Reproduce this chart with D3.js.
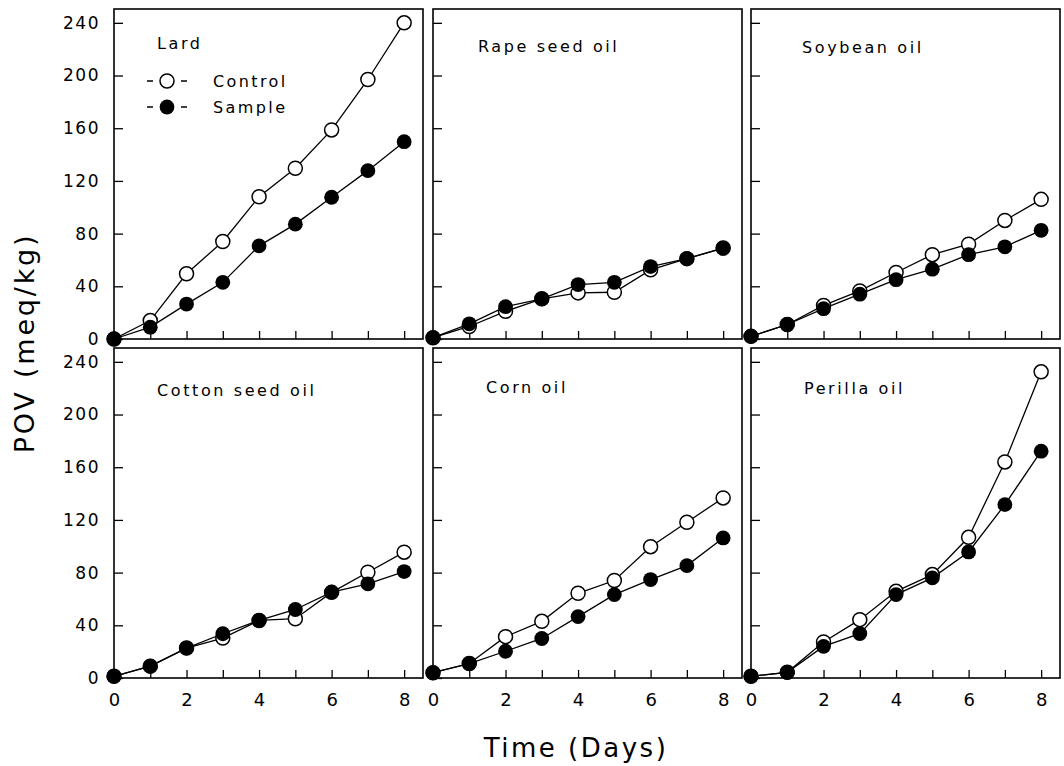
<!DOCTYPE html>
<html>
<head>
<meta charset="utf-8">
<script src="https://cdn.jsdelivr.net/npm/d3@7/dist/d3.min.js"></script>
<style>
  html, body { margin: 0; padding: 0; background: #fff; }
  svg { display: block; }
  text { font-family: "DejaVu Sans", sans-serif; fill: #000; }
</style>
</head>
<body>
<svg id="chart" width="1064" height="766"></svg>
<script>
// ---- data ----
const days = [0, 1, 2, 3, 4, 5, 6, 7, 8];
const oils = ["Lard", "Rape seed oil", "Soybean oil", "Cotton seed oil", "Corn oil", "Perilla oil"];
const yTicks = [0, 40, 80, 120, 160, 200, 240];
const xTicks = [0, 1, 2, 3, 4, 5, 6, 7, 8];
const xLabels = [0, 2, 4, 6, 8];

const controlLard    = [0, 14, 49.5, 74, 108, 129.6, 158.7, 197, 240];
const sampleLard     = [0, 9, 26.5, 43, 70.7, 87.2, 107.6, 127.8, 149.8];
const controlRape    = [1, 9.5, 21, 30.5, 35, 35.5, 52.5, 61, 69];
const sampleRape     = [1, 11.5, 24.5, 30.5, 41.3, 43, 55, 61, 69];
const controlSoybean = [2, 11, 25.5, 36.5, 50.5, 64, 72, 90, 106];
const sampleSoybean  = [2, 11, 23, 34, 45, 53, 64, 70, 82.5];
const controlCotton  = [1.3, 9, 22.7, 30.3, 43.7, 45, 65, 80.3, 95.5];
const sampleCotton   = [1.3, 9, 22.7, 33.6, 43.7, 52, 65.2, 71.5, 80.8];
const controlCorn    = [4, 11, 31.4, 43, 64.3, 74, 99.7, 118.2, 136.7];
const sampleCorn     = [4, 11, 20.3, 30, 46.6, 63.3, 74.7, 85.3, 106.3];
const controlPerilla = [1.3, 4.3, 27.3, 44.3, 65.8, 78.5, 106.8, 164, 232.4];
const samplePerilla  = [1.3, 4.3, 24, 33.7, 63.3, 76, 95.7, 131.6, 172.2];

const controls = [controlLard, controlRape, controlSoybean, controlCotton, controlCorn, controlPerilla];
const samples  = [sampleLard, sampleRape, sampleSoybean, sampleCotton, sampleCorn, samplePerilla];

// ---- layout ----
const colLeft = [114, 433, 751];
const rowTop = [9, 348];
const pw = 309, ph = 330;
const titleOffsetX = [43, 45, 51, 43, 53, 53];
const titleOffsetY = [40, 43, 44, 48, 45, 46];

const svg = d3.select("#chart");
const x = d3.scaleLinear().domain([0, 8.52]).range([0, pw]);
const y = d3.scaleLinear().domain([0, 250.5]).range([ph, 0]);
const line = d3.line().x((d, i) => x(days[i])).y(d => y(d));

oils.forEach((name, k) => {
  const col = k % 3, row = Math.floor(k / 3);
  const g = svg.append("g").attr("transform", `translate(${colLeft[col]},${rowTop[row]})`);

  // x axis (inward ticks)
  const xa = d3.axisBottom(x).tickValues(xTicks).tickSizeInner(-8).tickSizeOuter(0)
    .tickPadding(15)
    .tickFormat(d => (row === 1 && xLabels.includes(d)) ? d : "");
  const gx = g.append("g").attr("transform", `translate(0,${ph})`).call(xa);
  gx.select(".domain").remove();
  gx.selectAll("line").attr("stroke", "#000").attr("stroke-width", 1.3);
  gx.selectAll("text").style("font-size", "18px").attr("font-family", "DejaVu Sans");

  // y axis (inward ticks)
  const ya = d3.axisLeft(y).tickValues(yTicks).tickSizeInner(-9).tickSizeOuter(0)
    .tickPadding(14)
    .tickFormat(d => col === 0 ? d : "");
  const gy = g.append("g").call(ya);
  gy.select(".domain").remove();
  gy.selectAll("line").attr("stroke", "#000").attr("stroke-width", 1.3);
  gy.selectAll("text").style("font-size", "17px").style("letter-spacing", "1.5px")
    .attr("font-family", "DejaVu Sans");

  // frame
  g.append("rect").attr("x", 0).attr("y", 0).attr("width", pw).attr("height", ph)
    .attr("fill", "none").attr("stroke", "#000").attr("stroke-width", 1.6);

  // title
  g.append("text").attr("x", titleOffsetX[k]).attr("y", titleOffsetY[k])
    .style("font-size", "16px").style("letter-spacing", "2.6px").text(name);

  // lines
  g.append("path").datum(controls[k]).attr("d", line)
    .attr("fill", "none").attr("stroke", "#000").attr("stroke-width", 1.3);
  g.append("path").datum(samples[k]).attr("d", line)
    .attr("fill", "none").attr("stroke", "#000").attr("stroke-width", 1.3);

  // markers
  g.selectAll(".c").data(controls[k]).enter().append("circle")
    .attr("cx", (d, i) => x(days[i])).attr("cy", d => y(d)).attr("r", 7)
    .attr("fill", "#fff").attr("stroke", "#000").attr("stroke-width", 1.5);
  g.selectAll(".s").data(samples[k]).enter().append("circle")
    .attr("cx", (d, i) => x(days[i])).attr("cy", d => y(d)).attr("r", 7.4)
    .attr("fill", "#000");

  // legend in Lard panel
  if (k === 0) {
    const lg = g.append("g");
    const rows = [{label: "Control", fill: "#fff", yy: 72}, {label: "Sample", fill: "#000", yy: 98}];
    rows.forEach(r => {
      lg.append("line").attr("x1", 33).attr("x2", 39).attr("y1", r.yy).attr("y2", r.yy)
        .attr("stroke", "#000").attr("stroke-width", 1.5);
      lg.append("line").attr("x1", 67).attr("x2", 73).attr("y1", r.yy).attr("y2", r.yy)
        .attr("stroke", "#000").attr("stroke-width", 1.5);
      lg.append("circle").attr("cx", 53).attr("cy", r.yy).attr("r", r.fill === "#fff" ? 7 : 7.4)
        .attr("fill", r.fill).attr("stroke", r.fill === "#fff" ? "#000" : "none").attr("stroke-width", 1.5);
      lg.append("text").attr("x", 99).attr("y", r.yy + 6)
        .style("font-size", "16px").style("letter-spacing", "2.4px").text(r.label);
    });
  }
});

// axis titles
svg.append("text").attr("x", 576).attr("y", 757).attr("text-anchor", "middle")
  .style("font-size", "26px").style("letter-spacing", "2.5px").text("Time (Days)");
svg.append("text").attr("transform", "translate(34,343) rotate(-90)").attr("text-anchor", "middle")
  .style("font-size", "27px").style("letter-spacing", "2.8px").text("POV (meq/kg)");
</script>
</body>
</html>
